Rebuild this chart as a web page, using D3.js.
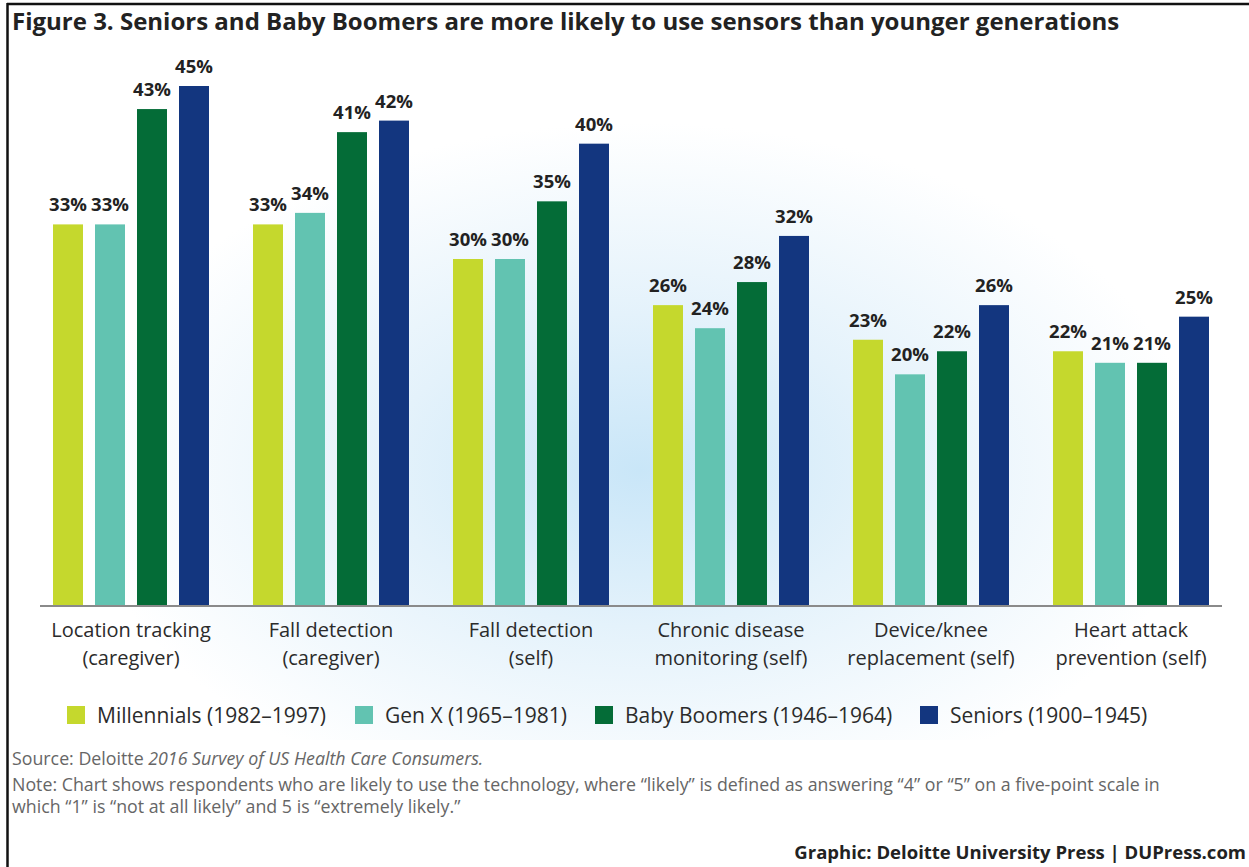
<!DOCTYPE html>
<html>
<head>
<meta charset="utf-8">
<script src="https://cdn.jsdelivr.net/npm/d3@7"></script>
<style>
  html, body { margin: 0; padding: 0; background: #fff; }
  svg { display: block; font-family: "Open Sans", sans-serif; }
</style>
</head>
<body>
<svg id="chart" width="1249" height="867"></svg>
<script>
// Survey categories (x axis groups)
const categories = [
  ["Location tracking", "(caregiver)"],
  ["Fall detection", "(caregiver)"],
  ["Fall detection", "(self)"],
  ["Chronic disease", "monitoring (self)"],
  ["Device/knee", "replacement (self)"],
  ["Heart attack", "prevention (self)"]
];

// Generations (series) and their legend labels
const seriesNames = ["Millennials", "Gen X", "Baby Boomers", "Seniors"];
const legendLabels = [
  "Millennials (1982–1997)",
  "Gen X (1965–1981)",
  "Baby Boomers (1946–1964)",
  "Seniors (1900–1945)"
];
const seriesColors = ["#c5d82d", "#62c3b1", "#046c37", "#13367f"];

// Share of respondents likely to use each sensor (%)
const millennials = [33, 33, 30, 26, 23, 22];
const genX        = [33, 34, 30, 24, 20, 21];
const boomers     = [43, 41, 35, 28, 22, 21];
const seniors     = [45, 42, 40, 32, 26, 25];
const seriesValues = [millennials, genX, boomers, seniors];

const svg = d3.select("#chart");
const W = 1249, H = 867;

// Soft blue glow behind the plot
const defs = svg.append("defs");
const glow = defs.append("radialGradient")
  .attr("id", "glow")
  .attr("gradientUnits", "userSpaceOnUse")
  .attr("cx", 640).attr("cy", 470).attr("r", 560)
  .attr("gradientTransform", "translate(640,470) scale(1,0.62) translate(-640,-470)");
glow.append("stop").attr("offset", "0%").attr("stop-color", "#c9e6f8");
glow.append("stop").attr("offset", "45%").attr("stop-color", "#e4f2fb");
glow.append("stop").attr("offset", "100%").attr("stop-color", "#ffffff");

svg.append("rect").attr("width", W).attr("height", H).attr("fill", "#fff");
svg.append("rect").attr("x", 0).attr("y", 40).attr("width", W).attr("height", 700)
  .attr("fill", "url(#glow)");

// Frame lines (top and left)
svg.append("line").attr("x1", 7).attr("x2", W).attr("y1", 4).attr("y2", 4)
  .attr("stroke", "#111").attr("stroke-width", 2.5);
svg.append("line").attr("x1", 7.5).attr("x2", 7.5).attr("y1", 3).attr("y2", H)
  .attr("stroke", "#111").attr("stroke-width", 2.5);

// Title
svg.append("text")
  .attr("x", 12).attr("y", 30)
  .attr("font-size", 24).attr("font-weight", 700).attr("fill", "#222")
  .text("Figure 3. Seniors and Baby Boomers are more likely to use sensors than younger generations");

// Scales
const x0 = d3.scaleBand().domain(d3.range(categories.length)).range([31, 1231]).padding(0);
const x1 = d3.scaleBand().domain(d3.range(seriesNames.length))
  .range([22, 178]).paddingInner(12 / 42).paddingOuter(0);
const y = d3.scaleLinear().domain([0, 45]).range([605, 86]);

// Bars
const groups = svg.append("g").selectAll("g")
  .data(categories.map((c, i) => i))
  .join("g")
  .attr("transform", i => `translate(${x0(i)},0)`);

groups.selectAll("rect")
  .data(i => seriesValues.map((vals, s) => ({ s, v: vals[i] })))
  .join("rect")
  .attr("x", d => x1(d.s))
  .attr("y", d => y(d.v))
  .attr("width", x1.bandwidth())
  .attr("height", d => y(0) - y(d.v))
  .attr("fill", d => seriesColors[d.s]);

groups.selectAll("text.val")
  .data(i => seriesValues.map((vals, s) => ({ s, v: vals[i] })))
  .join("text")
  .attr("class", "val")
  .attr("x", d => x1(d.s) + x1.bandwidth() / 2)
  .attr("y", d => y(d.v) - 13)
  .attr("text-anchor", "middle")
  .attr("font-size", 18.5).attr("font-weight", 700).attr("fill", "#222")
  .text(d => d.v + "%");

// Baseline
svg.append("line")
  .attr("x1", 40).attr("x2", 1222)
  .attr("y1", y(0) + 1).attr("y2", y(0) + 1)
  .attr("stroke", "#8a8a8a").attr("stroke-width", 2);

// Category labels (two lines each)
const catLabels = svg.append("g").selectAll("g")
  .data(categories)
  .join("g");
catLabels.selectAll("text")
  .data((d, i) => d.map((line, k) => ({ line, k, i })))
  .join("text")
  .attr("x", d => x0(d.i) + x0.bandwidth() / 2)
  .attr("y", d => 637 + d.k * 27.5)
  .attr("text-anchor", "middle")
  .attr("font-size", 20).attr("fill", "#2b2b2b")
  .text(d => d.line);

// Legend
const legendX = [67, 355, 595, 920];
const legend = svg.append("g").selectAll("g")
  .data(legendLabels)
  .join("g")
  .attr("transform", (d, i) => `translate(${legendX[i]},706)`);
legend.append("rect").attr("width", 18).attr("height", 18).attr("y", 0)
  .attr("fill", (d, i) => seriesColors[i]);
legend.append("text").attr("x", 30).attr("y", 17)
  .attr("font-size", 21).attr("fill", "#2b2b2b")
  .text(d => d);

// Source and note
const src = svg.append("text").attr("x", 12).attr("y", 765)
  .attr("font-size", 17.8).attr("fill", "#666");
src.append("tspan").text("Source: Deloitte ");
src.append("tspan").attr("font-style", "italic").text("2016 Survey of US Health Care Consumers.");

const noteLines = [
  "Note: Chart shows respondents who are likely to use the technology, where “likely” is defined as answering “4” or “5” on a five-point scale in",
  "which “1” is “not at all likely” and 5 is “extremely likely.”"
];
svg.append("g").selectAll("text")
  .data(noteLines)
  .join("text")
  .attr("x", 12).attr("y", (d, i) => 791 + i * 22)
  .attr("font-size", 17.8).attr("fill", "#666")
  .text(d => d);

// Credit line
svg.append("text")
  .attr("x", 1246).attr("y", 859)
  .attr("text-anchor", "end")
  .attr("font-size", 18.5).attr("font-weight", 700).attr("fill", "#222")
  .text("Graphic: Deloitte University Press  |  DUPress.com");
</script>
</body>
</html>
